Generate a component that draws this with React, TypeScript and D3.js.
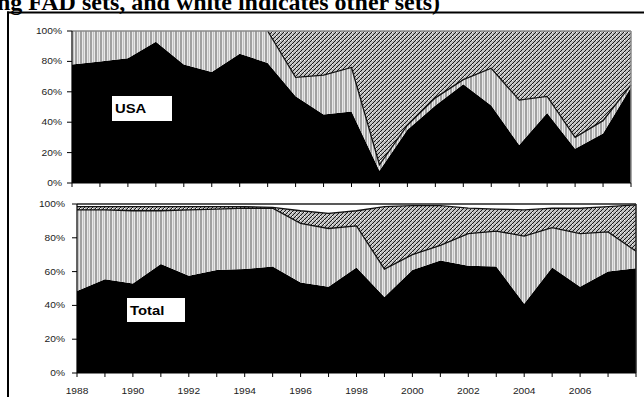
import React from "react";
import * as d3 from "d3";

const years = [1988, 1989, 1990, 1991, 1992, 1993, 1994, 1995, 1996, 1997, 1998, 1999, 2000, 2001, 2002, 2003, 2004, 2005, 2006, 2007, 2008];
const yearLabels = [1988, 1990, 1992, 1994, 1996, 1998, 2000, 2002, 2004, 2006];
const pctTicks = [0, 20, 40, 60, 80, 100];

// USA shares (%)
const usaBlack = [78, 80, 82, 93, 78, 73, 85, 79, 57, 45, 47, 8, 35, 51, 65, 51, 25, 46, 22.5, 32.5, 63];
const usaGrey = [22, 20, 18, 7, 22, 27, 15, 21, 12.5, 26, 29, 4, 3, 5, 3, 24.5, 29.5, 11, 7.5, 8.5, 1.5];
const usaFad = [0, 0, 0, 0, 0, 0, 0, 0, 30.5, 29, 24, 88, 62, 44, 32, 24.5, 45.5, 43, 70, 59, 35.5];
const usaOther = [0, 0, 0, 0, 0, 0, 0, 0, 0, 0, 0, 0, 0, 0, 0, 0, 0, 0, 0, 0, 0];

// Total shares (%)
const totBlack = [48.5, 55.5, 53, 64.5, 57.5, 61, 61.5, 63, 53.5, 51, 62.5, 45, 61, 66.5, 63.5, 63, 41, 62.5, 51, 60, 62];
const totGrey = [48, 41, 43, 31.5, 39, 36, 36, 34.5, 35, 34.5, 24.5, 16.5, 9, 9, 19, 21, 40, 23.5, 31.5, 23.5, 10];
const totFad = [2, 2, 2.5, 2.5, 2, 1.5, 1, 0.5, 7.5, 9, 9, 37, 29, 23.5, 15, 13, 15.5, 11.5, 15, 15, 27.5];
const totOther = [1.5, 1.5, 1.5, 1.5, 1.5, 1.5, 1.5, 2, 4, 5.5, 4, 1.5, 1, 1, 2.5, 3, 3.5, 2.5, 2.5, 1.5, 0.5];

const KEYS = ["black", "grey", "fad", "other"];
const FILLS: Record<string, string> = {
  black: "#000",
  grey: "url(#vstripe)",
  fad: "url(#hatch)",
  other: "#fff",
};

function Panel(props: any) {
  const { x0, x1, yTop, yBot, black, grey, fad, other, label, box, showYears, frame, labelRight, hideFadTop } = props;
  const x = d3.scaleLinear().domain([years[0], years[years.length - 1]]).range([x0, x1]);
  const y = d3.scaleLinear().domain([0, 100]).range([yBot, yTop]);
  const rows = years.map((yr, i) => ({ year: yr, black: black[i], grey: grey[i], fad: fad[i], other: other[i] }));
  const stack = d3.stack<any>().keys(KEYS)(rows);
  const area = d3
    .area<any>()
    .x((d: any) => x(d.data.year))
    .y0((d: any) => y(d[0]))
    .y1((d: any) => y(d[1]));

  const fadLayer = stack[2];
  const fadBottomLine = d3
    .line<any>()
    .defined((d: any, i: number) => fad[i] > 0 || (i + 1 < fad.length && fad[i + 1] > 0))
    .x((d: any) => x(d.data.year))
    .y((d: any) => y(d[0]));
  const fadTopLine = d3
    .line<any>()
    .x((d: any) => x(d.data.year))
    .y((d: any) => y(d[1]));

  return (
    <g>
      {stack.map((layer: any) => (
        <path key={layer.key} d={area(layer) || ""} fill={FILLS[layer.key]} />
      ))}
      <path d={fadBottomLine(fadLayer) || ""} fill="none" stroke="#111" strokeWidth={1.3} />
      {!hideFadTop && <path d={fadTopLine(fadLayer) || ""} fill="none" stroke="#111" strokeWidth={1.3} />}
      {/* frame */}
      <line x1={x0} x2={x1} y1={yTop} y2={yTop} stroke={frame} strokeWidth={1.5} />
      <line x1={x1} x2={x1} y1={yTop} y2={yBot} stroke={frame} strokeWidth={1.5} />
      {/* axes */}
      <line x1={x0} x2={x0} y1={yTop} y2={yBot} stroke="#000" strokeWidth={1.2} />
      <line x1={x0} x2={x1} y1={yBot} y2={yBot} stroke="#000" strokeWidth={1.2} />
      {pctTicks.map((t) => (
        <g key={t}>
          <line x1={x0 - 5} x2={x0} y1={y(t)} y2={y(t)} stroke="#000" strokeWidth={1} />
          <text
            transform={`translate(${labelRight},${y(t) + 3}) scale(1.2,1)`}
            textAnchor="end"
            fontFamily="Arial, 'Liberation Sans', sans-serif"
            fontSize={8.5}
            fill="#222"
          >
            {t + "%"}
          </text>
        </g>
      ))}
      {years.map((yr) => (
        <line key={yr} x1={x(yr)} x2={x(yr)} y1={yBot} y2={yBot + 4} stroke="#000" strokeWidth={1} />
      ))}
      {showYears &&
        yearLabels.map((yr) => (
          <text
            key={yr}
            transform={`translate(${x(yr)},${yBot + 21}) scale(1.2,1)`}
            textAnchor="middle"
            fontFamily="Arial, 'Liberation Sans', sans-serif"
            fontSize={8.5}
            fill="#222"
          >
            {yr}
          </text>
        ))}
      <rect x={box[0]} y={box[1]} width={box[2]} height={box[3]} fill="#fff" />
      <text
        transform={`translate(${box[0] + 3},${box[1] + 17}) scale(1.1,1)`}
        fontFamily="Arial, 'Liberation Sans', sans-serif"
        fontWeight="bold"
        fontSize={13.5}
        fill="#000"
      >
        {label}
      </text>
    </g>
  );
}

export default function App() {
  return (
    <svg width={644} height={397} style={{ position: "absolute", left: 0, top: 0, background: "#fff" }}>
      <defs>
        <pattern id="vstripe" width={5} height={10} patternUnits="userSpaceOnUse">
          <rect width={5} height={10} fill="#e8e8e8" />
          <rect x={0} width={2} height={10} fill="#a0a0a0" />
          <rect x={3} width={1} height={10} fill="#c2c2c2" />
        </pattern>
        <pattern id="hatch" width={4} height={4} patternUnits="userSpaceOnUse">
          <rect width={4} height={4} fill="#b8b8b8" />
          <path d="M0,4 L4,0 M-1,1 L1,-1 M3,5 L5,3" stroke="#1a1a1a" strokeWidth={1} />
          <rect x={0} y={0} width={1} height={1} fill="#fff" />
          <rect x={2.5} y={2.5} width={1} height={1} fill="#f4f4f4" />
        </pattern>
      </defs>
      <text x={-3} y={10} fontFamily="'Liberation Serif', 'Times New Roman', serif" fontWeight="bold" fontSize={24} fill="#000">
        ng FAD sets, and white indicates other sets)
      </text>
      <line x1={7} x2={650} y1={12.5} y2={12.5} stroke="#000" strokeWidth={2} />
      <line x1={8} x2={8} y1={11.5} y2={400} stroke="#000" strokeWidth={2} />
      <Panel
        x0={72}
        x1={631}
        yTop={31}
        yBot={183}
        black={usaBlack}
        grey={usaGrey}
        fad={usaFad}
        other={usaOther}
        label="USA"
        box={[112, 96, 60, 25]}
        showYears={false}
        frame="#8a8a8a"
        labelRight={62}
        hideFadTop={true}
      />
      <Panel
        x0={77}
        x1={636}
        yTop={204}
        yBot={373}
        black={totBlack}
        grey={totGrey}
        fad={totFad}
        other={totOther}
        label="Total"
        box={[127, 298, 58, 24]}
        showYears={true}
        frame="#222"
        labelRight={65}
        hideFadTop={false}
      />
    </svg>
  );
}
